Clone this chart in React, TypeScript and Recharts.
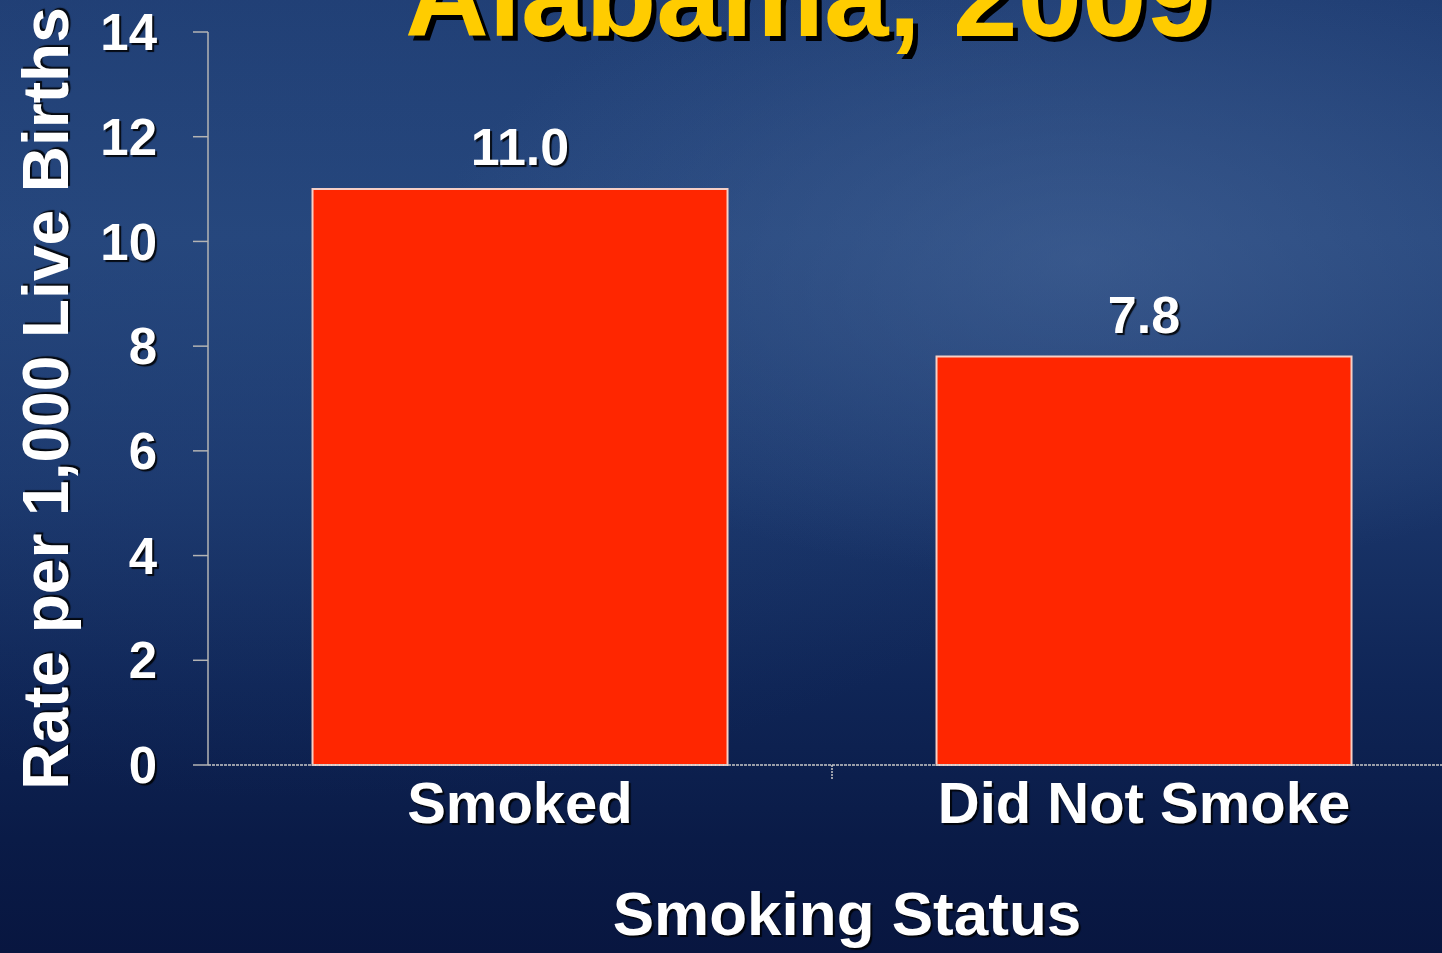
import React from 'react';
import { BarChart, Bar, XAxis, YAxis, LabelList } from 'recharts';

const categories = ['Smoked', 'Did Not Smoke'];
const rates = [11.0, 7.8];
const yTicks = [0, 2, 4, 6, 8, 10, 12, 14];
const titleText = 'Alabama, 2009';
const yLabelText = 'Rate per 1,000 Live Births';
const xLabelText = 'Smoking Status';

const data = categories.map((c, i) => ({ category: c, rate: rates[i] }));

const FONT = '"Liberation Sans", Arial, Helvetica, sans-serif';
const X_TICK_MARGIN = 17;

const XTick = (props: any) => {
  const { x, y, payload, index } = props;
  const off = payload && payload.offset ? payload.offset : 0;
  const axisY = y - X_TICK_MARGIN;
  return (
    <g>
      {index === 0 && off ? (
        <line x1={x + off} x2={x + off} y1={axisY} y2={axisY + 15} stroke="#c8c8c8" strokeWidth={1.5} strokeDasharray="2 1" />
      ) : null}
      <text
        x={x}
        y={y}
        dy="0.71em"
        textAnchor="middle"
        fill="#ffffff"
        fontFamily={FONT}
        fontWeight="bold"
        fontSize={58}
        style={{ textShadow: '2px 2px 1px rgba(0,0,0,0.85)' }}
      >
        {payload.value}
      </text>
    </g>
  );
};

export default function App() {
  return (
    <div
      style={{
        position: 'fixed',
        left: 0,
        top: 0,
        width: 1442,
        height: 953,
        overflow: 'hidden',
        background:
          'radial-gradient(ellipse 650px 320px at 1080px 260px, rgba(72,104,155,0.55), rgba(72,104,155,0) 100%), radial-gradient(ellipse 900px 500px at 300px 300px, rgba(40,75,130,0.35), rgba(40,75,130,0) 100%), linear-gradient(180deg, #203e74 0%, #25457b 25%, #1b376c 50%, #0f2556 72%, #0a1b47 88%, #081640 100%)',
      }}
    >
      <BarChart
        width={1460}
        height={953}
        data={data}
        margin={{ top: 32, right: 4, bottom: 0, left: 0 }}
        barCategoryGap="16.75%"
      >
        <XAxis
          dataKey="category"
          height={188}
          stroke="#c8c8c8"
          strokeWidth={1.5}
          strokeDasharray="3 1"
          tickLine={false}
          tickSize={0}
          tickMargin={X_TICK_MARGIN}
          tick={<XTick />}
          interval={0}
          label={{
            value: xLabelText,
            position: 'insideBottom',
            offset: 18,
            dx: 15,
            fill: '#ffffff',
            fontFamily: FONT,
            fontWeight: 'bold',
            fontSize: 62,
            style: { textShadow: '2px 2px 1px rgba(0,0,0,0.85)' },
          }}
        />
        <YAxis
          width={208}
          domain={[0, 14]}
          ticks={yTicks}
          interval={0}
          stroke="#b4b4b4"
          strokeWidth={1.5}
          tickSize={15}
          tickMargin={36}
          tick={{
            fill: '#ffffff',
            fontFamily: FONT,
            fontWeight: 'bold',
            fontSize: 51,
            style: { textShadow: '2px 2px 1px rgba(0,0,0,0.85)' },
          }}
          label={{
            value: yLabelText,
            angle: -90,
            position: 'insideLeft',
            offset: 45,
            dy: 0,
            fill: '#ffffff',
            fontFamily: FONT,
            fontWeight: 'bold',
            fontSize: 64,
            style: { textAnchor: 'middle', textShadow: '2px 2px 1px rgba(0,0,0,0.85)' },
          }}
        />
        <Bar dataKey="rate" fill="#ff2600" stroke="#f6cfc6" strokeWidth={2} isAnimationActive={false}>
          <LabelList
            dataKey="rate"
            position="top"
            offset={24}
            formatter={(v: any) => Number(v).toFixed(1)}
            fill="#ffffff"
            fontFamily={FONT}
            fontWeight="bold"
            fontSize={52}
            style={{ textShadow: '2px 2px 1px rgba(0,0,0,0.85)' }}
          />
        </Bar>
      </BarChart>
      <svg width={1442} height={953} style={{ position: 'absolute', left: 0, top: 0, pointerEvents: 'none' }}>
        <text
          x={808}
          y={36}
          textAnchor="middle"
          fill="#ffcc00"
          fontFamily={FONT}
          fontWeight="bold"
          fontSize={116}
          style={{ textShadow: '5px 5px 0px #000000' }}
        >
          {titleText}
        </text>
      </svg>
    </div>
  );
}
